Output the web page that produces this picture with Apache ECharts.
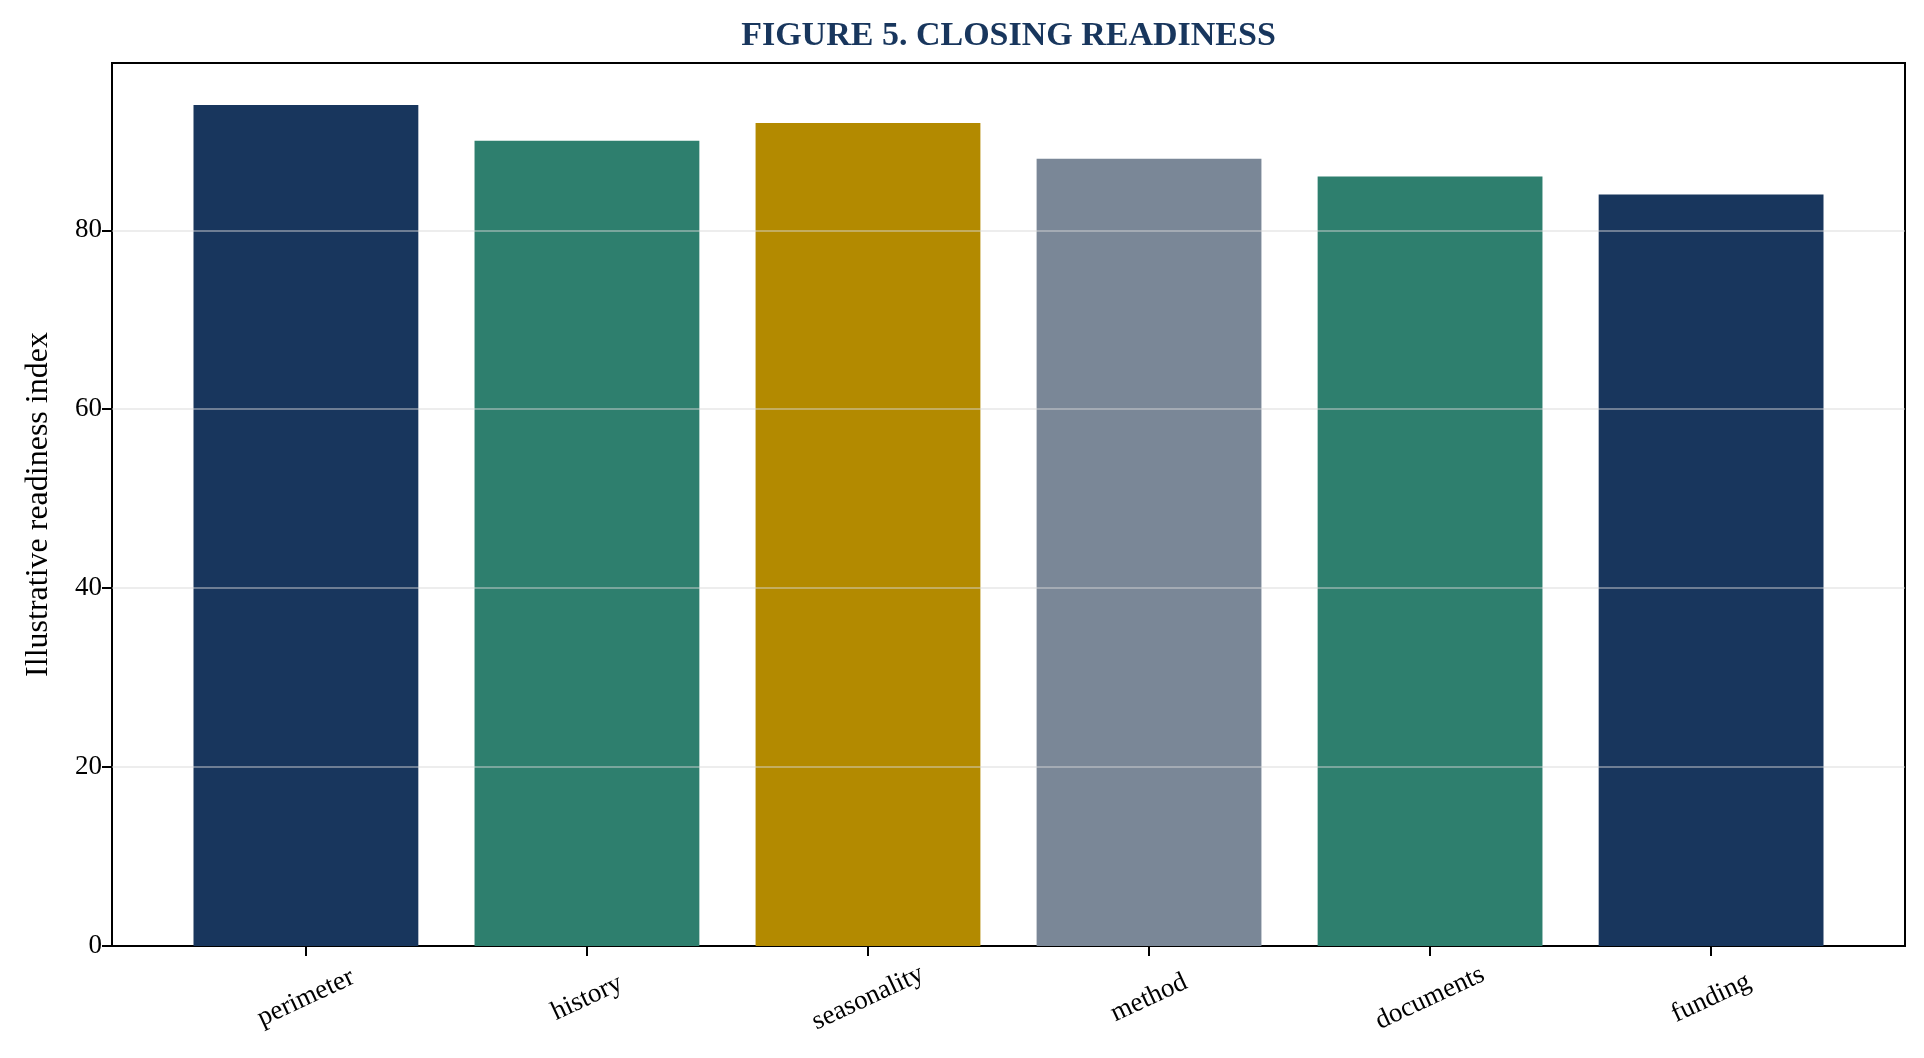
<!DOCTYPE html>
<html>
<head>
<meta charset="utf-8">
<title>Figure 5. Closing readiness</title>
<script src="https://cdn.jsdelivr.net/npm/echarts@6/dist/echarts.min.js"></script>
<style>
    html, body { margin: 0; padding: 0; background: #fff; }
    #div1 { width: 1924px; height: 1058px; }
</style>
</head>
<body>
<div id="div1"></div>
<script>
// data
var categories = ['perimeter', 'history', 'seasonality', 'method', 'documents', 'funding'];
var readiness = [94, 90, 92, 88, 86, 84];
var barColors = ['#18365D', '#2E7F6E', '#B38A00', '#7A8797', '#2E7F6E', '#18365D'];
var yTicks = [0, 20, 40, 60, 80];

var chart;
var option;
var fontFamily = "'Liberation Serif', 'Times New Roman', serif";

chart = echarts.init(document.getElementById('div1'));

// plot area, in px
var gridLeft = 112, gridRight = 19, gridTop = 63, gridBottom = 112;
var xMin = -0.69, xMax = 5.69;
var plotW = chart.getWidth() - gridLeft - gridRight;
var barPx = plotW / (xMax - xMin) * 0.8;

var barData = [];
for (var i = 0; i < categories.length; i++) {
    barData.push({ value: [i, readiness[i]], itemStyle: { color: barColors[i] } });
}

// grid lines drawn over the bars, like the reference
var gridLines = [];
for (var j = 1; j < yTicks.length; j++) {
    gridLines.push({ yAxis: yTicks[j] });
}

var xTickValues = [];
for (var k = 0; k < categories.length; k++) {
    xTickValues.push(k);
}

option = {
    backgroundColor: '#ffffff',
    animation: false,
    title: {
        text: 'FIGURE 5. CLOSING READINESS',
        left: gridLeft + plotW / 2,
        textAlign: 'center',
        top: 19,
        padding: 0,
        textStyle: {
            fontFamily: fontFamily,
            fontSize: 34,
            fontWeight: 'bold',
            color: '#18365D'
        }
    },
    grid: {
        left: gridLeft,
        right: gridRight,
        top: gridTop,
        bottom: gridBottom,
        show: true,
        borderColor: '#000',
        borderWidth: 2,
        backgroundColor: 'transparent'
    },
    xAxis: {
        type: 'value',
        min: xMin,
        max: xMax,
        axisLine: { show: true, onZero: false, lineStyle: { color: '#000', width: 2 } },
        axisTick: {
            show: true,
            length: 10,
            customValues: xTickValues,
            lineStyle: { color: '#000', width: 2 }
        },
        axisLabel: {
            customValues: xTickValues,
            rotate: 25,
            align: 'center',
            verticalAlign: 'middle',
            margin: 52,
            fontFamily: fontFamily,
            fontSize: 27,
            color: '#000',
            formatter: function (v) {
                return categories[Math.round(v)];
            }
        },
        splitLine: { show: false }
    },
    yAxis: {
        type: 'value',
        min: 0,
        max: 98.7,
        interval: 20,
        name: 'Illustrative readiness index',
        nameLocation: 'middle',
        nameGap: 57,
        nameTextStyle: {
            fontFamily: fontFamily,
            fontSize: 32,
            color: '#000'
        },
        axisLine: { show: true, onZero: false, lineStyle: { color: '#000', width: 2 } },
        axisTick: {
            show: true,
            length: 10,
            customValues: yTicks,
            lineStyle: { color: '#000', width: 2 }
        },
        axisLabel: {
            customValues: yTicks,
            margin: 10,
            fontFamily: fontFamily,
            fontSize: 27,
            color: '#000'
        },
        splitLine: { show: false }
    },
    series: [
        {
            type: 'bar',
            barWidth: barPx,
            data: barData,
            markLine: {
                silent: true,
                symbol: 'none',
                label: { show: false },
                lineStyle: { color: 'rgba(215,215,215,0.45)', width: 2, type: 'solid' },
                data: gridLines
            }
        }
    ]
};

chart.setOption(option);
</script>
</body>
</html>
